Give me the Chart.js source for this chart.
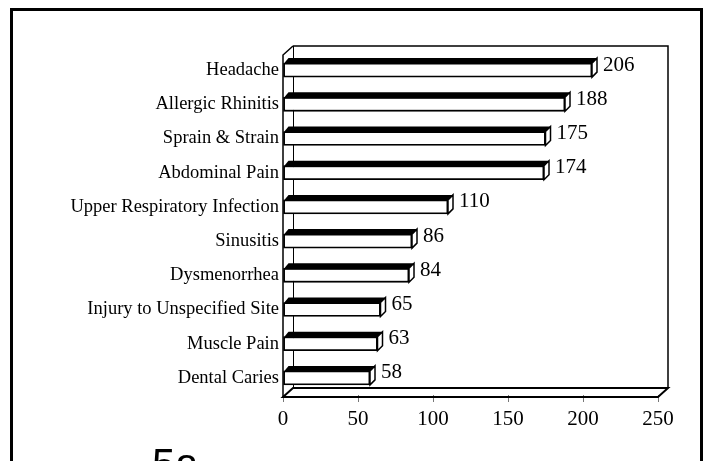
<!DOCTYPE html>
<html>
<head>
<meta charset="utf-8">
<script src="https://cdn.jsdelivr.net/npm/chart.js@4/dist/chart.umd.min.js"></script>
<style>
  html, body { margin: 0; padding: 0; background: #fff; }
  #wrap { width: 705px; height: 461px; position: relative; overflow: hidden; }
  canvas { display: block; }
</style>
</head>
<body>
<div id="wrap"><canvas id="c" width="705" height="461"></canvas></div>
<script>
// Most frequent diagnoses (number of visits)
const categories = [
  'Headache',
  'Allergic Rhinitis',
  'Sprain & Strain',
  'Abdominal Pain',
  'Upper Respiratory Infection',
  'Sinusitis',
  'Dysmenorrhea',
  'Injury to Unspecified Site',
  'Muscle Pain',
  'Dental Caries'
];
const visits = [206, 188, 175, 174, 110, 86, 84, 65, 63, 58];
const tickValues = [0, 50, 100, 150, 200, 250];
const figureTag = '5a';

const SERIF = '"Liberation Serif", "Times New Roman", serif';

// Depth of the chart box (walls/floor) and of each bar
const WALL_DX = 10, WALL_DY = 9;
const BAR_D = 5;

const box3d = {
  id: 'box3d',
  beforeDatasetsDraw(chart) {
    const { ctx, chartArea: { left, right, top, bottom } } = chart;
    const frontTop = top + 2;
    const floorY = bottom + 2;
    ctx.save();
    ctx.strokeStyle = '#000';
    ctx.lineJoin = 'miter';
    // back edge of the left wall
    ctx.lineWidth = 1;
    ctx.beginPath();
    ctx.moveTo(left + WALL_DX + 0.5, frontTop - WALL_DY);
    ctx.lineTo(left + WALL_DX + 0.5, floorY - WALL_DY);
    ctx.stroke();
    // back wall: top and right edges
    ctx.lineWidth = 1.5;
    ctx.beginPath();
    ctx.moveTo(left + WALL_DX, frontTop - WALL_DY);
    ctx.lineTo(right + WALL_DX, frontTop - WALL_DY);
    ctx.lineTo(right + WALL_DX, floorY - WALL_DY);
    ctx.stroke();
    // left wall front edge and top slant
    ctx.beginPath();
    ctx.moveTo(left + WALL_DX, frontTop - WALL_DY);
    ctx.lineTo(left, frontTop);
    ctx.lineTo(left, floorY);
    ctx.stroke();
    // floor
    ctx.lineWidth = 2;
    ctx.beginPath();
    ctx.moveTo(left, floorY);
    ctx.lineTo(right, floorY);
    ctx.lineTo(right + WALL_DX, floorY - WALL_DY);
    ctx.lineTo(left + WALL_DX, floorY - WALL_DY);
    ctx.closePath();
    ctx.stroke();
    ctx.restore();
  },
  afterDatasetsDraw(chart) {
    const { ctx } = chart;
    const meta = chart.getDatasetMeta(0);
    const values = chart.data.datasets[0].data;
    ctx.save();
    meta.data.forEach((bar, i) => {
      const { x, y, base, height } = bar.getProps(['x', 'y', 'base', 'height'], true);
      const t = y - height / 2;
      const b = y + height / 2;
      // top face
      ctx.fillStyle = '#000';
      ctx.beginPath();
      ctx.moveTo(base, t + 1);
      ctx.lineTo(x, t + 1);
      ctx.lineTo(x + BAR_D, t - BAR_D);
      ctx.lineTo(base + BAR_D, t - BAR_D);
      ctx.closePath();
      ctx.fill();
      // end face
      ctx.fillStyle = '#fff';
      ctx.strokeStyle = '#000';
      ctx.lineWidth = 1.5;
      ctx.beginPath();
      ctx.moveTo(x, t);
      ctx.lineTo(x + BAR_D, t - BAR_D);
      ctx.lineTo(x + BAR_D, b - BAR_D);
      ctx.lineTo(x, b);
      ctx.closePath();
      ctx.fill();
      ctx.stroke();
      // value label
      ctx.fillStyle = '#000';
      ctx.font = '21px ' + SERIF;
      ctx.textAlign = 'left';
      ctx.textBaseline = 'middle';
      ctx.fillText(String(values[i]), x + BAR_D + 6, y - 5);
    });
    ctx.restore();
  },
  afterDraw(chart) {
    const { ctx } = chart;
    ctx.save();
    // page frame
    ctx.strokeStyle = '#000';
    ctx.lineWidth = 3;
    ctx.strokeRect(11.5, 9.5, 690, 520);
    // figure tag below the chart
    ctx.fillStyle = '#000';
    ctx.font = '42px "Liberation Sans", sans-serif';
    ctx.textAlign = 'left';
    ctx.textBaseline = 'alphabetic';
    ctx.fillText(figureTag, 152, 478);
    ctx.restore();
  }
};

new Chart(document.getElementById('c'), {
  type: 'bar',
  data: {
    labels: categories,
    datasets: [{
      data: visits,
      backgroundColor: '#fff',
      borderColor: '#000',
      borderWidth: 1.8,
      borderSkipped: false,
      barThickness: 14
    }]
  },
  options: {
    indexAxis: 'y',
    responsive: false,
    animation: false,
    devicePixelRatio: 1,
    layout: { padding: { left: 0, right: 47, top: 53, bottom: 0 } },
    plugins: { legend: { display: false }, tooltip: { enabled: false } },
    scales: {
      x: {
        min: 0,
        max: 250,
        afterBuildTicks(scale) { scale.ticks = tickValues.map(v => ({ value: v })); },
        afterFit(scale) { scale.height = 66; },
        grid: { display: true, drawOnChartArea: false, drawTicks: true, tickLength: 7, color: '#777', lineWidth: 1 },
        border: { display: false },
        ticks: { color: '#000', font: { family: SERIF, size: 21 }, padding: 5, maxRotation: 0 }
      },
      y: {
        afterFit(scale) { scale.width = 283; },
        grid: { display: false, drawTicks: false },
        border: { display: false },
        ticks: { color: '#000', font: { family: SERIF, size: 18.5 }, padding: 4 }
      }
    }
  },
  plugins: [box3d]
});
</script>
</body>
</html>
